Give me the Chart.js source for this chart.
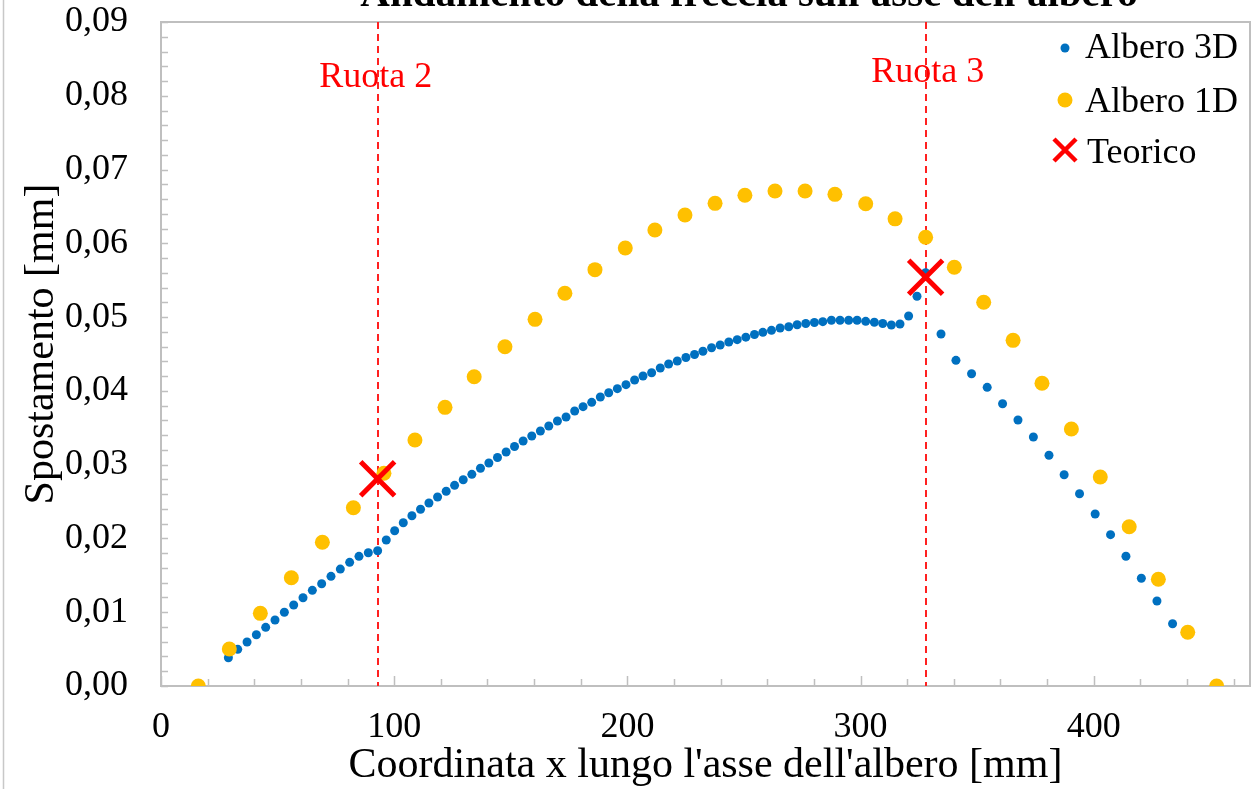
<!DOCTYPE html>
<html><head><meta charset="utf-8">
<script src="https://cdn.jsdelivr.net/npm/chart.js@4.4.1/dist/chart.umd.min.js"></script>
<style>html,body{margin:0;padding:0;background:#fff;overflow:hidden}#wrap{width:1254px;height:789px;position:relative}</style>
</head><body><div id="wrap"><canvas id="c" width="1254" height="789"></canvas></div>
<script>
// ---- data ----
const x3D = [28.9,32.9,36.9,40.9,44.9,48.9,52.9,56.9,60.9,64.9,68.9,72.9,76.9,80.9,84.9,88.9,92.9,
  96.6,100.2,103.9,107.6,111.3,114.9,118.6,122.3,125.9,129.6,133.3,137.0,140.6,144.3,148.0,151.6,155.3,159.0,162.7,166.3,
  170.0,173.7,177.4,181.0,184.7,188.4,192.0,195.7,199.4,203.1,206.7,210.4,214.1,217.7,221.4,225.1,228.8,232.4,236.1,239.8,
  243.5,247.1,250.8,254.5,258.1,261.8,265.5,269.2,272.8,276.5,280.2,283.8,287.5,291.2,294.9,298.5,302.2,305.9,309.5,313.2,
  316.9,320.6,324.2,327.9,
  334.5,340.9,347.6,354.3,360.9,367.5,374.1,380.8,387.3,393.9,400.6,407.2,413.8,420.4,427.1,433.8];
const y3D = [0.00383,0.00497,0.00596,0.00695,0.00795,0.00894,0.00999,0.01098,0.01196,0.01297,0.01386,0.01486,0.01585,0.01676,0.01757,0.01806,0.01833,
  0.01979,0.02105,0.02213,0.02308,0.02395,0.02480,0.02562,0.02639,0.02720,0.02796,0.02869,0.02951,0.03022,0.03097,0.03172,0.03246,
  0.03321,0.03388,0.03456,0.03524,0.03592,0.03646,0.03727,0.03786,0.03845,0.03917,0.03975,0.04030,0.04084,0.04147,0.04202,0.04246,
  0.04310,0.04364,0.04405,0.04452,0.04493,0.04538,0.04584,0.04622,0.04663,0.04694,0.04728,0.04764,0.04794,0.04821,0.04852,0.04870,
  0.04897,0.04913,0.04927,0.04938,0.04957,0.04957,0.04958,0.04957,0.04943,0.04931,0.04913,0.04893,0.04906,0.05015,0.05282,0.05602,
  0.04771,0.04414,0.04233,0.04048,0.03826,0.03605,0.03375,0.03127,0.02864,0.02606,0.02331,0.02051,0.01758,0.01460,0.01152,0.00844];
const x1D = [16.0,29.3,42.6,55.9,69.2,82.5,95.6,108.9,121.8,134.3,147.5,160.4,173.2,186.1,199.1,211.8,224.7,237.6,250.4,263.3,
  276.2,289.0,302.2,314.8,327.9,340.2,352.8,365.4,377.8,390.4,402.8,415.2,427.7,440.3,452.7];
const y1D = [0,0.00501,0.00985,0.01468,0.01948,0.02417,0.02883,0.03334,0.03777,0.04192,0.04599,0.04970,0.05323,0.05643,0.05937,
  0.06181,0.06384,0.06542,0.06651,0.06709,0.06709,0.06664,0.06537,0.06332,0.06082,0.05675,0.05201,0.04685,0.04103,0.03483,0.02833,
  0.02159,0.01446,0.00728,0];
const xTeo = [92.9, 327.9];
const yTeo = [0.0281, 0.0554];
const ruotaX = [92.9, 327.9];
const ruotaLabels = ['Ruota 2', 'Ruota 3'];
const seriesNames = ['Albero 3D', 'Albero 1D', 'Teorico'];
const xTickValues = [0, 100, 200, 300, 400];
const yTickValues = [0, 0.01, 0.02, 0.03, 0.04, 0.05, 0.06, 0.07, 0.08, 0.09];
const chartTitle = "Andamento della freccia sull'asse dell'albero";
const xTitle = "Coordinata x lungo l'asse dell'albero [mm]";
const yTitle = "Spostamento [mm]";

const SERIF = "'Liberation Serif','Times New Roman',serif";
const BLUE = '#0070C0', YELLOW = '#FFC000', RED = '#FF0000', GRAY = '#BFBFBF';
const pts = (xs, ys) => xs.slice(0, Math.min(xs.length, ys.length)).map((x, i) => ({x, y: ys[i]}));
const noPad = s => { s.paddingTop = 0; s.paddingBottom = 0; s.paddingLeft = 0; s.paddingRight = 0; };

const decor = {
  id: 'decor',
  beforeDraw(chart) {
    const c = chart.ctx;
    c.save(); c.fillStyle = '#fff'; c.fillRect(0, 0, chart.width, chart.height); c.restore();
  },
  beforeDatasetsDraw(chart) {
    const c = chart.ctx, a = chart.chartArea, xs = chart.scales.x, ys = chart.scales.y;
    c.save();
    c.strokeStyle = '#C8C8C8'; c.lineWidth = 1.5;
    c.beginPath(); c.moveTo(3.5, 0); c.lineTo(3.5, chart.height); c.stroke();
    c.fillStyle = '#000'; c.font = 'bold 41px ' + SERIF; c.textAlign = 'center'; c.textBaseline = 'alphabetic';
    c.fillText(chartTitle, 749, 6);
    // y axis title
    c.save();
    c.translate(53, 344); c.rotate(-Math.PI / 2);
    c.font = '42px ' + SERIF; c.textAlign = 'center'; c.textBaseline = 'alphabetic';
    c.fillText(yTitle, 0, 0);
    c.restore();
    c.strokeStyle = GRAY; c.lineWidth = 2;
    c.strokeRect(a.left, a.top, a.right - a.left, a.bottom - a.top);
    c.lineWidth = 1.5;
    c.beginPath();
    for (let v = 0; v <= 466; v += 20) {
      const px = Math.round(xs.getPixelForValue(v)) + 0.5;
      const len = (v % 100 === 0) ? 10 : 7;
      c.moveTo(px, a.bottom); c.lineTo(px, a.bottom - len);
    }
    for (let k = 0; k <= 45; k++) {
      const py = Math.round(ys.getPixelForValue(k * 0.002)) + 0.5;
      c.moveTo(a.left, py); c.lineTo(a.left + 7, py);
    }
    c.stroke();
    c.fillStyle = RED; c.font = '36px ' + SERIF; c.textAlign = 'center'; c.textBaseline = 'alphabetic';
    const baseY = [87, 82];
    ruotaX.forEach((v, i) => {
      c.fillText(ruotaLabels[i], xs.getPixelForValue(v) - (i === 0 ? 2 : -2), baseY[i]);
    });
    c.strokeStyle = '#FF2020'; c.lineWidth = 2; c.setLineDash([7, 5]);
    ruotaX.forEach(v => {
      const px = Math.round(xs.getPixelForValue(v));
      c.beginPath(); c.moveTo(px, a.top); c.lineTo(px, a.bottom); c.stroke();
    });
    c.restore();
  },
  afterDatasetsDraw(chart) {
    const c = chart.ctx;
    c.save();
    const mx = 1065;
    c.fillStyle = BLUE; c.beginPath(); c.arc(mx, 48, 4.5, 0, Math.PI * 2); c.fill();
    c.fillStyle = YELLOW; c.beginPath(); c.arc(mx, 100, 7.5, 0, Math.PI * 2); c.fill();
    c.strokeStyle = RED; c.lineWidth = 4.5;
    c.beginPath(); c.moveTo(mx - 11, 139); c.lineTo(mx + 11, 161); c.moveTo(mx + 11, 139); c.lineTo(mx - 11, 161); c.stroke();
    c.fillStyle = '#000'; c.font = '36px ' + SERIF; c.textAlign = 'left'; c.textBaseline = 'alphabetic';
    c.fillText(seriesNames[0], 1085, 58);
    c.fillText(seriesNames[1], 1085, 112);
    c.fillText(seriesNames[2], 1087, 163);
    c.restore();
  }
};

new Chart(document.getElementById('c'), {
  type: 'scatter',
  data: {
    datasets: [
      {label: seriesNames[2], data: pts(xTeo, yTeo), pointStyle: 'crossRot', pointRadius: 24, borderColor: RED, backgroundColor: RED, pointBorderWidth: 5, order: 0},
      {label: seriesNames[1], data: pts(x1D, y1D), pointRadius: 7.5, backgroundColor: YELLOW, borderColor: YELLOW, pointBorderWidth: 0, order: 1},
      {label: seriesNames[0], data: pts(x3D, y3D), pointRadius: 4.5, backgroundColor: BLUE, borderColor: BLUE, pointBorderWidth: 0, order: 2}
    ]
  },
  options: {
    responsive: false, animation: false, devicePixelRatio: 1, events: [],
    layout: {autoPadding: false, padding: {left: 0, top: 22, right: 4, bottom: 0}},
    plugins: {legend: {display: false}, tooltip: {enabled: false}, title: {display: false}},
    scales: {
      x: {
        type: 'linear', min: 0, max: 467,
        afterBuildTicks: s => { s.ticks = xTickValues.map(v => ({value: v})); },
        afterFit: s => { s.height = 103; noPad(s); },
        grid: {display: false, drawTicks: false}, border: {display: false},
        ticks: {color: '#000', font: {family: SERIF, size: 36}, padding: 20, maxRotation: 0, autoSkip: false, callback: v => String(v)},
        title: {display: true, text: xTitle, color: '#000', font: {family: SERIF, size: 42, lineHeight: 1}, padding: {top: 0, bottom: 2}}
      },
      y: {
        type: 'linear', min: 0, max: 0.09,
        afterBuildTicks: s => { s.ticks = yTickValues.map(v => ({value: v})); },
        afterFit: s => { s.width = 161; noPad(s); },
        grid: {display: false, drawTicks: false}, border: {display: false},
        ticks: {color: '#000', font: {family: SERIF, size: 36}, padding: 33, autoSkip: false, callback: v => v.toFixed(2).replace('.', ',')},
        title: {display: false, text: yTitle}
      }
    }
  },
  plugins: [decor]
});
</script></body></html>
